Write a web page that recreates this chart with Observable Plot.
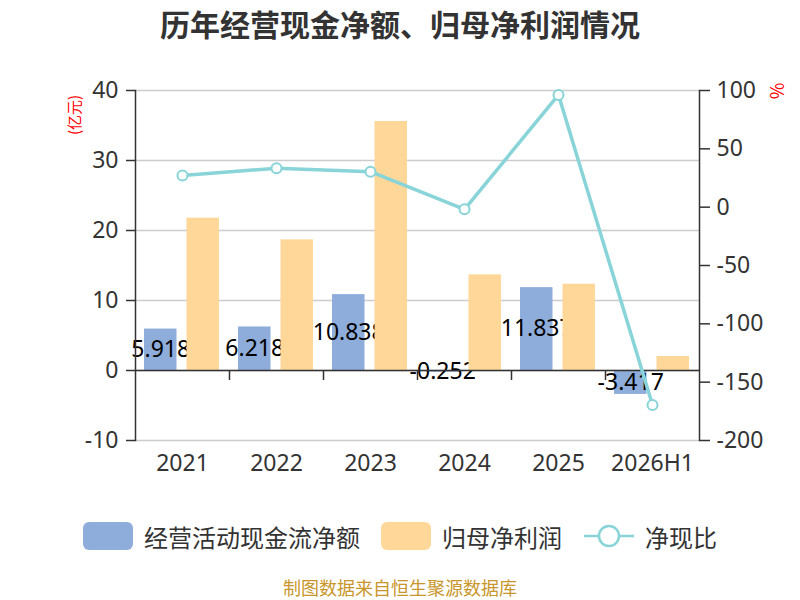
<!DOCTYPE html>
<html><head><meta charset="utf-8">
<script src="https://cdn.jsdelivr.net/npm/d3@7"></script>
<script src="https://cdn.jsdelivr.net/npm/@observablehq/plot@0.6"></script>
<style>
body{margin:0;background:#fff;}
#wrap{position:relative;width:800px;height:600px;overflow:hidden;font-family:"Noto Sans CJK SC","Noto Sans",sans-serif;background:#fff;}
#title{position:absolute;left:0;top:0;width:800px;text-align:center;font-size:30px;font-weight:bold;color:#333;line-height:46px;}
#chart{position:absolute;left:0;top:50px;}
.unit{position:absolute;color:#f00;white-space:nowrap;transform:translate(-50%,-50%) rotate(-90deg);}
#legend{position:absolute;left:0;top:522px;width:800px;height:28px;display:flex;justify-content:center;align-items:center;font-size:24px;color:#333;}
.item{display:flex;align-items:center;}
.sw{width:50px;height:28px;border-radius:6px;margin-right:11px;}
#footer{position:absolute;left:0;top:577px;width:800px;text-align:center;font-size:18px;color:#c8962a;line-height:20px;}
</style></head>
<body>
<div id="wrap">
  <div id="title">历年经营现金净额、归母净利润情况</div>
  <div id="chart"></div>
  <div class="unit" style="left:73px;top:115px;font-size:15px;">(亿元)</div>
  <div class="unit" style="left:776px;top:91px;font-size:18px;">%</div>
  <div id="legend"></div>
  <div id="footer">制图数据来自恒生聚源数据库</div>
</div>
<script>
const years = ["2021", "2022", "2023", "2024", "2025", "2026H1"];
const cashFlow = [5.918, 6.218, 10.838, -0.252, 11.837, -3.417];
const netProfit = [21.76, 18.67, 35.57, 13.67, 12.33, 2.0];
const ratio = [27.2, 33.3, 30.4, -1.8, 96.2, -169.5];
const leftTicks = [-10, 0, 10, 20, 30, 40];
const rightTicks = [-200, -150, -100, -50, 0, 50, 100];
const seriesNames = ["经营活动现金流净额", "归母净利润", "净现比"];

const BLUE = "#8eaddb", ORANGE = "#ffd899", TEAL = "#88d4d8";
const data = years.map((year, i) => ({year, cash: cashFlow[i], profit: netProfit[i], ratio: ratio[i]}));
const toLeft = d3.scaleLinear().domain([-200, 100]).range([-10, 40]);

const chart = Plot.plot({
  width: 800, height: 440,
  marginLeft: 135, marginRight: 101, marginTop: 40, marginBottom: 50,
  style: {fontFamily: "'Noto Sans', 'Noto Sans CJK SC', sans-serif", background: "#fff", color: "#333", overflow: "visible"},
  x: {type: "band", domain: years, padding: 0, label: null},
  y: {domain: [-10, 40], label: null},
  marks: [
    Plot.gridY(leftTicks, {stroke: "#ccc", strokeOpacity: 1, strokeWidth: 1.5}),
    Plot.barY(data, {x: "year", y: "cash", fill: BLUE, insetLeft: 9, insetRight: 52.5}),
    Plot.text(data, {x: "year", y: d => d.cash / 2, text: d => d.cash.toFixed(3), dx: -21.8, fontSize: 23, fill: "#000"}),
    Plot.barY(data, {x: "year", y: "profit", fill: ORANGE, insetLeft: 51.5, insetRight: 10}),
    Plot.ruleY([0], {stroke: "#333", strokeWidth: 1.5}),
    Plot.ruleX(years.slice(1), {x: d => d, y1: 0, y2: 0, insetBottom: -10, dx: -47, stroke: "#333", strokeWidth: 1.5}),
    Plot.axisY({ticks: leftTicks, tickFormat: v => String(v), tickSize: 9, tickPadding: 8, fontSize: 23, stroke: "#333", strokeWidth: 1.5, label: null}),
    Plot.frame({anchor: "left", stroke: "#333", strokeWidth: 1.5}),
    Plot.axisY({anchor: "right", ticks: rightTicks.map(toLeft), tickFormat: v => String(Math.round(toLeft.invert(v))), tickSize: 10, tickPadding: 7, fontSize: 23, stroke: "#333", strokeWidth: 1.5, label: null}),
    Plot.frame({anchor: "right", stroke: "#333", strokeWidth: 1.5}),
    Plot.axisX({tickSize: 0, tickPadding: 14, fontSize: 23, label: null}),
    Plot.line(data, {x: "year", y: d => toLeft(d.ratio), stroke: TEAL, strokeWidth: 3.5}),
    Plot.dot(data, {x: "year", y: d => toLeft(d.ratio), r: 5, fill: "#fff", stroke: TEAL, strokeWidth: 2})
  ]
});
document.getElementById("chart").appendChild(chart);

const legend = document.getElementById("legend");
legend.innerHTML = `
  <div class="item"><div class="sw" style="background:${BLUE}"></div><span>${seriesNames[0]}</span></div>
  <div class="item" style="margin-left:21px"><div class="sw" style="background:${ORANGE}"></div><span>${seriesNames[1]}</span></div>
  <div class="item" style="margin-left:22px"><svg width="50" height="28" style="margin-right:11px"><line x1="0" y1="14" x2="50" y2="14" stroke="${TEAL}" stroke-width="2.5"/><circle cx="25" cy="14" r="10" fill="#fff" stroke="${TEAL}" stroke-width="2.5"/></svg><span>${seriesNames[2]}</span></div>`;
</script>
</body></html>
